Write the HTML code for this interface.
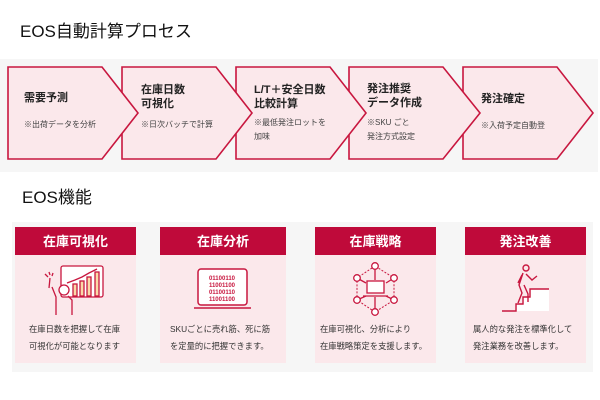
<!DOCTYPE html>
<html><head><meta charset="utf-8"><style>
html,body{margin:0;padding:0;background:#fff;width:600px;height:400px;overflow:hidden}
svg{display:block}
text{font-family:"Liberation Sans","Noto Sans CJK JP",sans-serif}
</style></head><body>
<svg width="600" height="400" viewBox="0 0 600 400" xmlns="http://www.w3.org/2000/svg">
<text x="20" y="37" font-size="17" fill="#111">EOS自動計算プロセス</text>
<rect x="0" y="59" width="598" height="113" fill="#f6f6f6"/>
<g fill="#fbe8eb" stroke="#c8173f" stroke-width="1.6">
<polygon points="463,67 557,67 593,113 557,159 463,159"/>
<polygon points="349,67 443,67 480,113 443,159 349,159"/>
<polygon points="236,67 330,67 366,113 330,159 236,159"/>
<polygon points="122,67 216,67 252,113 216,159 122,159"/>
<polygon points="8,67 102,67 138,113 102,159 8,159"/>
</g>
<g font-size="11" font-weight="bold" fill="#222">
<text x="24" y="101">需要予測</text>
<text x="141" y="93">在庫日数</text><text x="141" y="107">可視化</text>
<text x="254" y="93">L/T＋安全日数</text><text x="254" y="107">比較計算</text>
<text x="367" y="92">発注推奨</text><text x="367" y="106">データ作成</text>
<text x="481" y="102">発注確定</text>
</g>
<g font-size="8" fill="#444">
<text x="24" y="127">※出荷データを分析</text>
<text x="141" y="127">※日次バッチで計算</text>
<text x="254" y="125">※最低発注ロットを</text><text x="254" y="139">加味</text>
<text x="367" y="125">※SKU ごと</text><text x="367" y="139">発注方式設定</text>
<text x="481" y="128">※入荷予定自動登</text>
</g>
<text x="22" y="203" font-size="17" fill="#111">EOS機能</text>
<rect x="12" y="222" width="581" height="150" fill="#f6f6f6"/>
<g fill="#fbe8eb">
<rect x="15" y="255" width="121" height="108"/>
<rect x="160" y="255" width="126" height="108"/>
<rect x="315" y="255" width="121" height="108"/>
<rect x="465" y="255" width="121" height="108"/>
</g>
<g fill="#bf0a3a">
<rect x="15" y="227" width="121" height="28"/>
<rect x="160" y="227" width="126" height="28"/>
<rect x="315" y="227" width="121" height="28"/>
<rect x="465" y="227" width="121" height="28"/>
</g>
<g font-size="13" font-weight="bold" fill="#fff" text-anchor="middle">
<text x="75.5" y="246">在庫可視化</text>
<text x="223" y="246">在庫分析</text>
<text x="375.5" y="246">在庫戦略</text>
<text x="525.5" y="246">発注改善</text>
</g>
<g font-size="8.3" fill="#333">
<text x="29" y="332">在庫日数を把握して在庫</text><text x="29" y="349">可視化が可能となります</text>
<text x="170" y="332">SKUごとに売れ筋、死に筋</text><text x="170" y="349">を定量的に把握できます。</text>
<text x="320" y="332">在庫可視化、分析により</text><text x="320" y="349">在庫戦略策定を支援します。</text>
<text x="473" y="332">属人的な発注を標準化して</text><text x="473" y="349">発注業務を改善します。</text>
</g>
<!-- icon 1 -->
<g stroke="#c8173f" stroke-width="1.3" fill="none">
<rect x="61" y="266" width="42" height="31" rx="2" fill="#fff"/>
<rect x="73" y="284" width="4" height="12" fill="#fbd9a8"/>
<rect x="80" y="281" width="4" height="15" fill="#fbd9a8"/>
<rect x="87" y="277" width="4" height="19" fill="#fbd9a8"/>
<rect x="95" y="272" width="4" height="24" fill="#fbd9a8"/>
<polyline points="67,283 75,280 82,277 89,273 97,269"/>
<circle cx="64" cy="290" r="5" fill="#fff"/>
<path d="M49,288 L50,278 M52,287 L56,297 L56,315 M72,315 L72,300 L68,296"/>
<path d="M45,274 L48,277 M49,272 L50,275 M53,273 L52,276"/>
</g>
<!-- icon 2 -->
<g stroke="#c8173f" stroke-width="1.5" fill="#fff">
<rect x="198" y="269" width="49" height="36" rx="3"/>
<line x1="194" y1="308" x2="251" y2="308"/>
</g>
<g font-family="Liberation Mono" font-size="6" font-weight="bold" fill="#c8173f" text-anchor="middle">
<text x="222" y="280">01100110</text><text x="222" y="287">11001100</text>
<text x="222" y="294">01100110</text><text x="222" y="301">11001100</text>
</g>
<!-- icon 3 -->
<g stroke="#c8173f" stroke-width="1" fill="none" stroke-dasharray="2,1.5">
<polyline points="375,266 357,278 357,300 375,312 394,300 394,278 375,266"/>
</g>
<g stroke="#c8173f" stroke-width="1.3" fill="#fff">
<line x1="375" y1="266" x2="375" y2="280"/><line x1="357" y1="278" x2="366" y2="283"/>
<line x1="394" y1="278" x2="386" y2="283"/><line x1="357" y1="300" x2="366" y2="296"/>
<line x1="394" y1="300" x2="386" y2="296"/><line x1="375" y1="297" x2="375" y2="312"/>
<rect x="367" y="281" width="17" height="12"/><line x1="363" y1="296" x2="388" y2="296"/>
<circle cx="375" cy="266" r="3.3"/><circle cx="357" cy="278" r="3.3"/><circle cx="394" cy="278" r="3.3"/>
<circle cx="357" cy="300" r="3.3"/><circle cx="394" cy="300" r="3.3"/><circle cx="375" cy="312" r="3.3"/>
</g>
<!-- icon 4 -->
<polygon points="517,311 517,304 524,304 524,297 531,297 531,289 549,289 549,311" fill="#fff"/>
<g stroke="#c8173f" stroke-width="1.4" fill="none">
<polyline points="502,311 516,311 516,304 523,304 523,297 530,297 530,289 549,289"/>
<circle cx="526" cy="268" r="3"/>
<path d="M523,273 L519,285 L522,293 L518,303 M524,285 L528,294 L528,302 M526,274 L532,280 L537,276 M522,275 L518,283"/>
</g>
</svg>
</body></html>
